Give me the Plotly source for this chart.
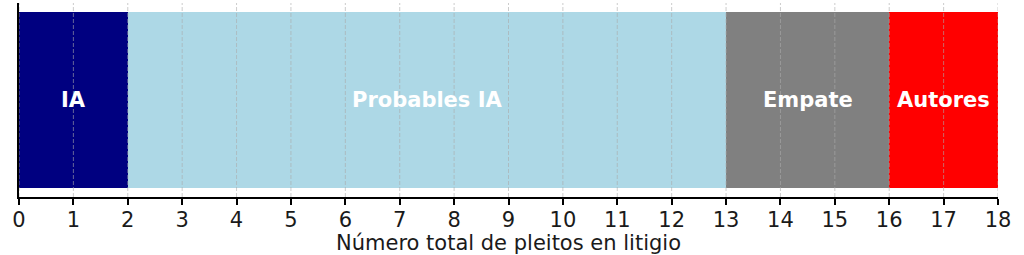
import plotly.graph_objects as go

categories = ["IA", "Probables IA", "Empate", "Autores"]
counts = [2, 11, 3, 2]
colors = ["#000080", "#add8e6", "#808080", "#ff0000"]
x_ticks = list(range(0, 19))
x_title = "Número total de pleitos en litigio"

fig = go.Figure()
start = 0
for cat, val, col in zip(categories, counts, colors):
    fig.add_trace(go.Bar(
        y=[0], x=[val], orientation="h", name=cat,
        marker=dict(color=col, line=dict(width=0)),
        width=0.8, hoverinfo="skip",
    ))
    fig.add_annotation(
        x=start + val / 2, y=0, xref="x", yref="y",
        text=f"<b>{cat}</b>", showarrow=False,
        font=dict(color="white", size=21, family="DejaVu Sans"),
        xanchor="center", yanchor="middle",
    )
    start += val

# dashed gridlines drawn above the bars
for t in x_ticks:
    fig.add_shape(
        type="line", xref="x", yref="paper", x0=t, x1=t, y0=0, y1=1,
        line=dict(color="rgba(170,170,170,0.6)", width=1, dash="4px,2px"),
        layer="above",
    )

fig.update_layout(
    barmode="stack",
    width=1024, height=255,
    margin=dict(l=19, r=26, t=3, b=58),
    paper_bgcolor="white", plot_bgcolor="white",
    showlegend=False,
    font=dict(family="DejaVu Sans", color="#1a1a1a"),
)
fig.update_xaxes(
    range=[0, 18], tickvals=x_ticks, ticktext=[str(t) for t in x_ticks],
    showline=True, linecolor="black", linewidth=1.5,
    ticks="outside", ticklen=6, tickwidth=1.5, tickcolor="black",
    tickfont=dict(size=21, family="DejaVu Sans", color="#1a1a1a"),
    ticklabelstandoff=-3,
    showgrid=False, layer="above traces", zeroline=False,
    title=dict(text=x_title, font=dict(size=21, family="DejaVu Sans", color="#1a1a1a"), standoff=5),
)
fig.update_yaxes(
    range=[-0.44, 0.44], showticklabels=False, ticks="",
    showline=True, linecolor="black", linewidth=1.5,
    showgrid=False, zeroline=False,
)

fig.write_html("out.html")
